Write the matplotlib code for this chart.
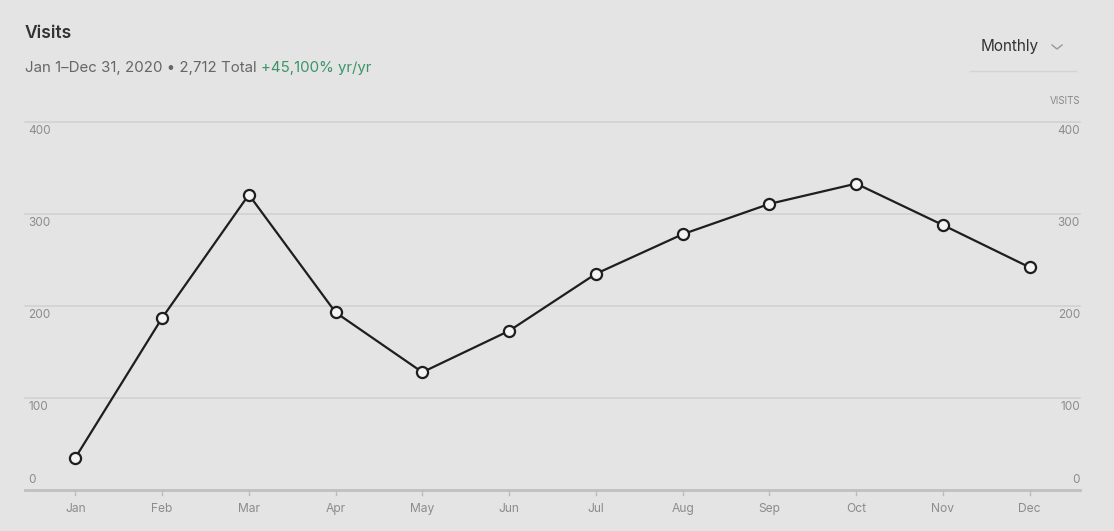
import matplotlib
matplotlib.use("Agg")
import matplotlib.pyplot as plt
from matplotlib.transforms import blended_transform_factory

months = ["Jan", "Feb", "Mar", "Apr", "May", "Jun", "Jul", "Aug", "Sep", "Oct", "Nov", "Dec"]
visits = [35, 187, 321, 193, 128, 173, 235, 278, 311, 333, 288, 242]
yticks = [0, 100, 200, 300, 400]

plt.rcParams['font.family'] = ['Inter', 'DejaVu Sans']
BG = "#e4e4e4"
W, H = 1114, 531
fig = plt.figure(figsize=(W / 100, H / 100), dpi=100, facecolor=BG)
ax = fig.add_axes([25 / W, 41 / H, (1080 - 25) / W, (490 - 122) / H], facecolor=BG)

x = list(range(len(months)))
ax.set_xlim(-0.58, 11.58)
ax.set_ylim(0, 400)
for s in ax.spines.values():
    s.set_visible(False)
ax.set_xticks([])
ax.set_yticks([])

for v in yticks[1:]:
    ax.axhline(v, color="#d0d0d0", lw=1.1, zorder=1, clip_on=False)
ax.axhline(0, color="#c0c0c0", lw=2.0, zorder=1, clip_on=False)

ax.plot(x, visits, color="#1e1e1e", lw=1.6, marker="o", ms=8,
        markerfacecolor="#f4f4f4", markeredgecolor="#1e1e1e", markeredgewidth=1.6, zorder=3)

tr = blended_transform_factory(ax.transAxes, ax.transData)
for v in yticks:
    if v == 0:
        yy, va = v + 4, "bottom"
    else:
        yy, va = v - 3, "top"
    ax.text(0.003, yy, str(v), transform=tr, ha="left", va=va,
            fontsize=8.5, color="#8c8c8c")
    ax.text(1.0, yy, str(v), transform=tr, ha="right", va=va,
            fontsize=8.5, color="#8c8c8c")

trx = blended_transform_factory(ax.transData, ax.transAxes)
for i, m in enumerate(months):
    ax.plot([i, i], [-0.004, -0.014], transform=trx, color="#bcbcbc", lw=1, clip_on=False)
    ax.text(i, -0.035, m, transform=trx, ha="center", va="top", fontsize=8.7, color="#8c8c8c")

fig.text(25 / W, 1 - 33 / H, "Visits", fontsize=12.5, color="#333333", weight="semibold",
         ha="left", va="center")
t1 = fig.text(25 / W, 1 - 68 / H, "Jan 1\u2013Dec 31, 2020 \u2022 2,712 Total ", fontsize=10.8,
              color="#666666", ha="left", va="center")
fig.canvas.draw()
bb = t1.get_window_extent()
fig.text(bb.x1 / W, 1 - 68 / H, "+45,100% yr/yr", fontsize=10.8, color="#3a9467",
         ha="left", va="center")

fig.text(1010 / W, 1 - 47 / H, "Monthly", fontsize=11, color="#333333", ha="center", va="center")
fig.lines.append(plt.Line2D([1052 / W, 1057 / W, 1062 / W], [1 - 45 / H, 1 - 49 / H, 1 - 45 / H],
                            transform=fig.transFigure, color="#999999", lw=1))
fig.lines.append(plt.Line2D([970 / W, 1076 / W], [1 - 71 / H, 1 - 71 / H],
                            transform=fig.transFigure, color="#d4d4d4", lw=1))
fig.text(1080 / W, 1 - 101 / H, "VISITS", fontsize=7, color="#888888", ha="right", va="center")

fig.savefig("out.png", dpi=100, facecolor=BG)
